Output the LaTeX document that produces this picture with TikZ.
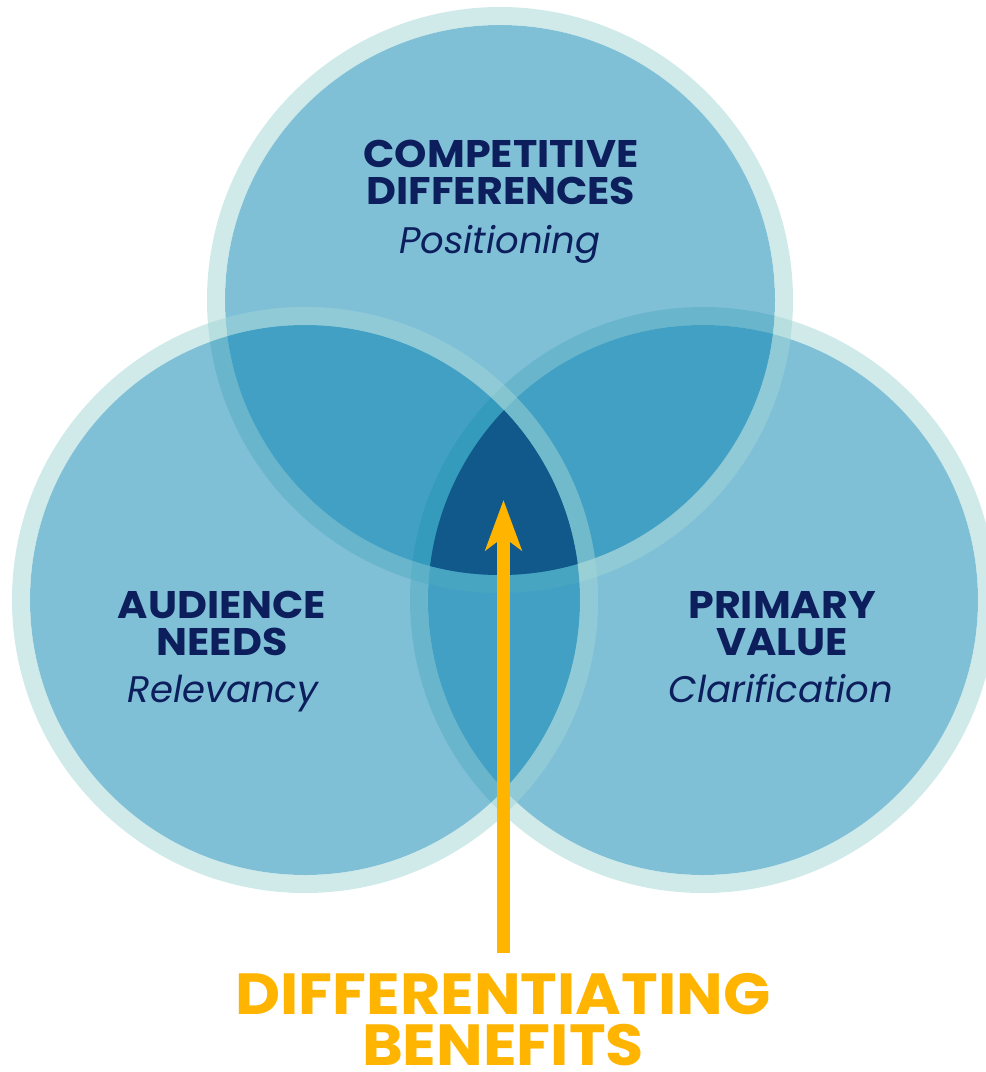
\documentclass[tikz,border=0pt]{standalone}
\usepackage{fontspec}
\setmainfont{Poppins}
\newfontfamily\headfont[FakeStretch=1.07]{Poppins}
\usetikzlibrary{arrows.meta}

\definecolor{ringteal}{RGB}{161,213,213}
\definecolor{venblue}{RGB}{2,129,175}
\definecolor{coreblue}{RGB}{17,89,138}
\definecolor{navy}{RGB}{12,30,92}
\definecolor{gold}{RGB}{255,180,0}

\tikzset{
  disc/.style={fill=venblue, fill opacity=0.5},
  halo/.style={draw=ringteal, draw opacity=0.5, line width=18pt},
  heading/.style={font=\headfont\bfseries\fontsize{38.5}{37}\selectfont, text=navy, align=center, inner sep=0pt, anchor=south},
  subheading/.style={font=\itshape\fontsize{37}{40}\selectfont, text=navy, inner sep=0pt, anchor=base},
  benefit/.style={font=\headfont\bfseries\fontsize{58}{51}\selectfont, text=gold, align=center, inner sep=0pt, anchor=south},
}

\begin{document}
\begin{tikzpicture}[x=1pt,y=-1pt]
\useasboundingbox (0,0) rectangle (986,1072);

% the three discs, drawn back to front
\foreach \name/\cx/\cy in {primary/703/600, competitive/500/300, audience/305/600} {
  \coordinate (\name) at (\cx,\cy);
  \fill[disc] (\name) circle (275);
  \draw[halo] (\name) circle (284);
}

% where all three meet
\begin{scope}
  \clip (primary) circle (275);
  \clip (competitive) circle (275);
  \fill[coreblue] (audience) circle (275);
\end{scope}

% labels (south = baseline of the last line)
\node[heading] (comptitle) at (501,205) {COMPETITIVE\\DIFFERENCES};
\node[subheading] (compsub) at (500,253) {Positioning};
\node[heading] (audtitle) at (222,656) {AUDIENCE\\NEEDS};
\node[subheading] (audsub) at (223,702) {Relevancy};
\node[heading] (primtitle) at (782,656) {PRIMARY\\VALUE};
\node[subheading] (primsub) at (781,702) {Clarification};

\node[benefit] (benefits) at (503,1066) {DIFFERENTIATING\\BENEFITS};

% arrow into the core
\coordinate (core) at (503.5,500);
\coordinate (foot) at (503.5,953);
\draw[gold, line width=13pt, -{Stealth[length=50pt, width=36pt, inset=13pt]}] (foot) -- (core);
\end{tikzpicture}
\end{document}
